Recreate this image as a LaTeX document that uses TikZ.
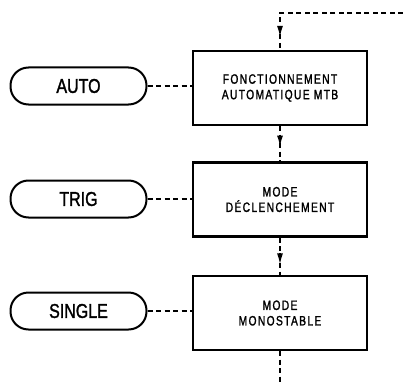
\documentclass[tikz,border=0pt]{standalone}
\usepackage{fontspec}
\setmainfont{Liberation Sans}
\newfontfamily\pillfont[FakeStretch=0.8,FakeBold=1.5]{Liberation Sans}
\newfontfamily\stagefont[FakeStretch=0.76,FakeBold=1.5,LetterSpace=10]{Liberation Sans}
\usetikzlibrary{arrows.meta}

\begin{document}
\begin{tikzpicture}[x=1pt,y=-1pt,
  pill/.style={draw,line width=2pt,rounded corners=18pt,
    minimum width=136pt,minimum height=37pt,inner sep=0pt,
    font=\pillfont\fontsize{20}{20}\selectfont},
  stage/.style={draw,line width=2.4pt,minimum width=174pt,minimum height=74pt,
    align=center,inner sep=0pt,
    font=\stagefont\fontsize{13.5}{15.5}\selectfont},
  link/.style={line width=1.4pt,dash pattern=on 5pt off 3.5pt},
  flowtip/.style={line width=1.4pt,-{Latex[length=11pt,width=6pt]}}
]
\useasboundingbox (0,0) rectangle (403,385);

% control buttons
\node[pill] (auto)   at (78.5,86)  {AUTO};
\node[pill] (trig)   at (78.5,199) {TRIG};
\node[pill] (single) at (78.5,311) {SINGLE};

% operating modes
\node[stage] (b1) at (280,88)  {FONCTIONNEMENT\\AUTOMATIQUE MTB};
\node[stage] (b2) at (280,199.5) {MODE\\DÉCLENCHEMENT};
\node[stage] (b3) at (280,313) {MODE\\MONOSTABLE};

% loop in from the right, and exit at the bottom
\coordinate (entry) at (403,13);
\coordinate (corner) at (280,13);
\coordinate (exit) at (280,385);

\draw[link] (entry) -- (corner) -- (b1.north)
  coordinate[pos=0.65] (t1);
\draw[link] (b1.south) -- (b2.north) coordinate[pos=0.58] (t2);
\draw[link] (b2.south) -- (b3.north) coordinate[pos=0.72] (t3);
\draw[link] (b3.south) -- (exit);

% direction marks on the vertical flow
\foreach \t in {t1,t2,t3}
  \draw[flowtip] ([yshift=11pt]\t) -- (\t);

% button-to-mode links
\draw[link] (auto.east)   -- (auto.east -| b1.west);
\draw[link] (trig.east)   -- (trig.east -| b2.west);
\draw[link] (single.east) -- (single.east -| b3.west);
\end{tikzpicture}
\end{document}
